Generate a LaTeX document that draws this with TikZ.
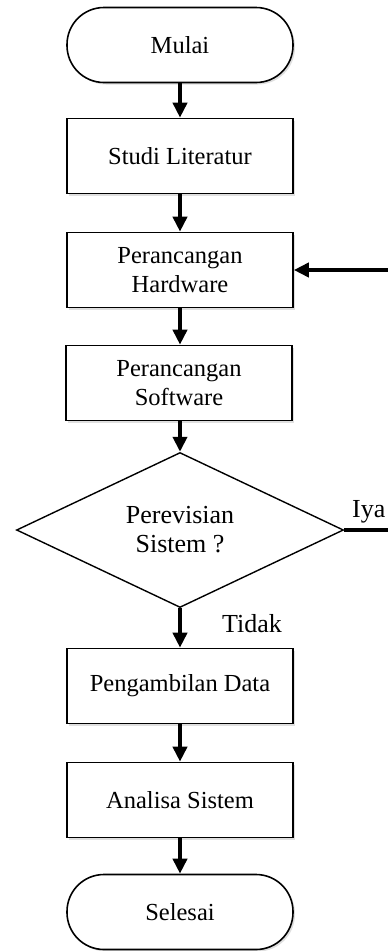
\documentclass[tikz,border=0pt]{standalone}
\usepackage{fontspec}
\setmainfont{Liberation Serif}
\usetikzlibrary{positioning,shapes.geometric,arrows.meta,shadows}

\begin{document}
\begin{tikzpicture}[x=1pt,y=-1pt,
  box/.style={rectangle,draw,line width=1.6pt,minimum width=226pt,minimum height=75pt,align=center,fill=white,
    font=\fontsize{24.5}{29}\selectfont,drop shadow={shadow xshift=2pt,shadow yshift=-2pt,opacity=0.25}},
  term/.style={box,rounded corners=37pt},
  dec/.style={diamond,draw,line width=1.4pt,minimum width=327pt,minimum height=155pt,inner sep=0pt,align=center,
    font=\fontsize{26}{29}\selectfont},
  flow/.style={line width=4pt,-{Triangle[length=15pt,width=14pt]}},
  lbl/.style={inner sep=0pt,font=\fontsize{26}{29}\selectfont}]
      \useasboundingbox (0,0) rectangle (388,951);
      \node[term](mulai) at (180,45) {Mulai};
      \node[box](studi) at (180,156) {Studi Literatur};
      \node[box](hw) at (180,270) {Perancangan\\Hardware};
      \node[box](sw) at (179,383) {Perancangan\\Software};
      \node[dec](cek) at (180,530) {Perevisian\\Sistem ?};
      \node[box](data) at (180,686) {Pengambilan Data};
      \node[box](analisa) at (180,800) {Analisa Sistem};
      \node[term](selesai) at (180,912) {Selesai};
      \coordinate (balik) at (389.6,530);

      \draw[flow] (mulai) -- (studi);
      \draw[flow] (studi) -- (hw);
      \draw[flow] (hw) -- (hw|-sw.north);
      \draw[flow] (sw.south-|cek) -- (cek);
      \draw[flow] (cek) -- (data);
      \draw[flow] (data) -- (analisa);
      \draw[flow] (analisa) -- (selesai);
      \draw[flow] (cek.east) -- (balik) |- (hw.east);

      \node[lbl,anchor=base west](iya) at (352,517) {Iya};
      \node[lbl,anchor=base west](tidak) at (222,632) {Tidak};
    \end{tikzpicture}
\end{document}
